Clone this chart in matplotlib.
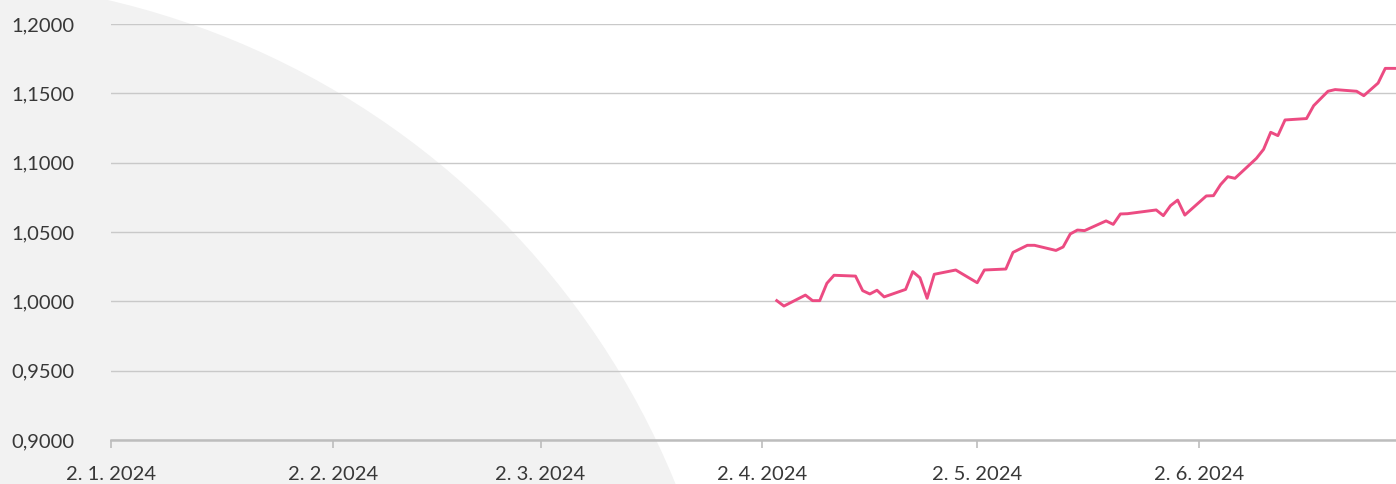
import matplotlib
matplotlib.use("Agg")
import matplotlib.pyplot as plt
from matplotlib.patches import Ellipse
from matplotlib.ticker import FuncFormatter, MultipleLocator
import pandas as pd

dates = [
    "2024-04-04", "2024-04-05",
    "2024-04-08", "2024-04-09", "2024-04-10", "2024-04-11", "2024-04-12",
    "2024-04-15", "2024-04-16", "2024-04-17", "2024-04-18", "2024-04-19",
    "2024-04-22", "2024-04-23", "2024-04-24", "2024-04-25", "2024-04-26",
    "2024-04-29", "2024-05-02", "2024-05-03",
    "2024-05-06", "2024-05-07", "2024-05-09", "2024-05-10",
    "2024-05-13", "2024-05-14", "2024-05-15", "2024-05-16", "2024-05-17",
    "2024-05-20", "2024-05-21", "2024-05-22", "2024-05-23",
    "2024-05-27", "2024-05-28", "2024-05-29", "2024-05-30", "2024-05-31",
    "2024-06-03", "2024-06-04", "2024-06-05", "2024-06-06", "2024-06-07",
    "2024-06-10", "2024-06-11", "2024-06-12", "2024-06-13", "2024-06-14",
    "2024-06-17", "2024-06-18", "2024-06-20", "2024-06-21",
    "2024-06-24", "2024-06-25", "2024-06-27", "2024-06-28",
    "2024-07-01",
]
values = [
    1.0005, 0.9966,
    1.0045, 1.0005, 1.0005, 1.0130, 1.0188,
    1.0182, 1.0077, 1.0053, 1.0080, 1.0032,
    1.0086, 1.0214, 1.0170, 1.0022, 1.0195,
    1.0226, 1.0134, 1.0226,
    1.0233, 1.0353, 1.0404, 1.0404,
    1.0367, 1.0392, 1.0486, 1.0514, 1.0510,
    1.0580, 1.0555, 1.0630, 1.0632,
    1.0659, 1.0618, 1.0690, 1.0730, 1.0622,
    1.0760, 1.0762, 1.0842, 1.0899, 1.0887,
    1.1031, 1.1096, 1.1219, 1.1195, 1.1308,
    1.1318, 1.1411, 1.1515, 1.1527,
    1.1515, 1.1483, 1.1574, 1.1680,
    1.1680,
]
tick_dates = ["2024-01-02", "2024-02-02", "2024-03-02", "2024-04-02", "2024-05-02", "2024-06-02"]

plt.rcParams['font.family'] = ['Lato', 'DejaVu Sans']
text_color = '#383838'
line_color = '#ec4b82'

fig = plt.figure(figsize=(13.96, 4.84), dpi=100)
fig.patch.set_facecolor('white')

# big grey circle behind everything
circle = Ellipse((-0.0544, -0.634), 1.163, 3.355, transform=fig.transFigure,
                 facecolor='#f2f2f2', edgecolor='none', zorder=-5)
fig.patches.append(circle)

ax = fig.add_axes([111 / 1396, 44 / 484, 1 - 111 / 1396, 416 / 484])
ax.set_facecolor('none')
ax.set_zorder(2)

x = pd.to_datetime(dates)
ax.plot(x, values, color=line_color, linewidth=2.1, zorder=3)

ax.set_ylim(0.9, 1.2)
ax.yaxis.set_major_locator(MultipleLocator(0.05))
ax.yaxis.set_major_formatter(FuncFormatter(lambda v, p: f"{v:.4f}".replace('.', ',')))
ax.grid(axis='y', color='#c9c9c9', linewidth=1.0, zorder=1)
ax.set_axisbelow(True)

ax.set_xlim(pd.Timestamp("2024-01-02"), pd.Timestamp("2024-06-29 12:00"))
ticks = pd.to_datetime(tick_dates)
ax.set_xticks(ticks)
ax.set_xticklabels([f"{d.day}. {d.month}. {d.year}" for d in ticks])
ax.tick_params(axis='x', length=6, width=1.2, color='#bdbdbd', pad=13,
               labelsize=14.5, labelcolor=text_color)
ax.tick_params(axis='y', length=0, pad=72, labelsize=14.5, labelcolor=text_color)
for lbl in ax.get_yticklabels():
    lbl.set_horizontalalignment('left')

for side in ['left', 'right', 'top']:
    ax.spines[side].set_visible(False)
ax.spines['bottom'].set_color('#bdbdbd')
ax.spines['bottom'].set_linewidth(1.8)

fig.savefig('out.png', dpi=100)
